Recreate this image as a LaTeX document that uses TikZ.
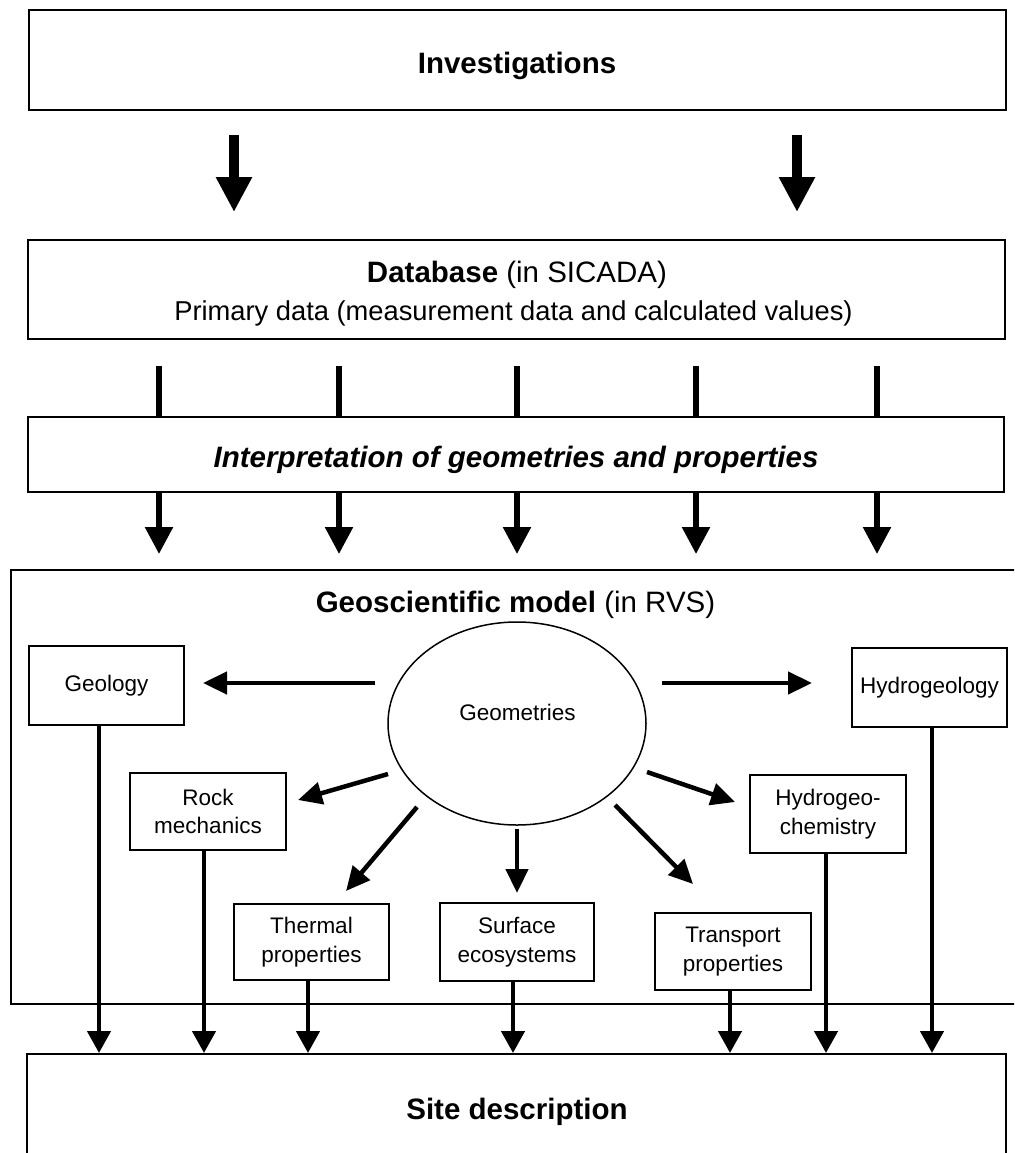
\documentclass[tikz,border=0pt]{standalone}
\usepackage{fontspec}
\setmainfont{Liberation Sans}
\usetikzlibrary{arrows.meta,shapes.geometric}
\newcommand\figbig{\fontsize{29.5}{35}\selectfont}
\newcommand\figmid{\fontsize{27.3}{32}\selectfont}
\begin{document}
\begin{tikzpicture}[x=1pt,y=-1pt,
  box/.style={draw, line width=2pt, rectangle, inner sep=0pt, anchor=north west},
  small/.style={box, align=center, font=\fontsize{22.5}{28.5}\selectfont},
  title/.style={inner sep=0pt, anchor=base},
  conn/.style={line width=5.5pt},
  bigarrow/.style={line width=10pt, -{Triangle[width=34pt,length=35pt]}},
  midarrow/.style={line width=5.5pt, -{Triangle[width=27pt,length=27pt]}},
  geoarrow/.style={line width=4.5pt, -{Triangle[width=22pt,length=24pt]}},
  botarrow/.style={line width=4.5pt, -{Triangle[width=23pt,length=22pt]}},
]
\useasboundingbox (0,0) rectangle (1014,1153);
\clip (0,0) rectangle (1014,1153);

% --- boxes ---
\node[box, minimum width=977pt, minimum height=100pt] (inv) at (28,9) {};
\node[title, font=\bfseries\figbig] (invt) at (517,74) {Investigations};

\node[box, minimum width=977pt, minimum height=99pt] (db) at (27,239) {};
\node[title, font=\figbig] (dbt1) at (517,282) {\textbf{Database} (in SICADA)};
\node[title, font=\figmid] (dbt2) at (513.5,320) {Primary data (measurement data and calculated values)};

\node[box, minimum width=976pt, minimum height=75pt] (interp) at (27,416) {};
\node[title, font=\bfseries\itshape\figbig] (interpt) at (516,467) {Interpretation of geometries and properties};

\node[box, minimum width=1030pt, minimum height=434pt] (geo) at (10,569) {};
\node[title, font=\figbig] (geot) at (515.5,612) {\textbf{Geoscientific model} (in RVS)};

\node[draw, ellipse, line width=1.5pt, inner sep=0pt, minimum width=258pt, minimum height=203pt] (geom) at (517,723.5) {};
\node[title, font=\fontsize{22.5}{28.5}\selectfont] (geomt) at (517.5,720.5) {Geometries};

\node[small, minimum width=155pt, minimum height=79pt] (geology) at (28,645) {Geology};
\node[small, minimum width=155pt, minimum height=79pt] (hydro) at (851,647) {Hydrogeology};
\node[small, minimum width=156pt, minimum height=77pt] (rock) at (129,772) {Rock\\mechanics};
\node[small, minimum width=156pt, minimum height=78pt] (hchem) at (749,774) {Hydrogeo-\\chemistry};
\node[small, minimum width=155pt, minimum height=76pt] (thermal) at (233,903) {Thermal\\properties};
\node[small, minimum width=154pt, minimum height=78pt] (surface) at (439,902) {Surface\\ecosystems};
\node[small, minimum width=156pt, minimum height=77pt] (transport) at (654,912) {Transport\\properties};

\node[box, minimum width=979pt, minimum height=200pt] (site) at (26,1053) {};
\node[title, font=\bfseries\figbig] (sitet) at (517,1119) {Site description};

% --- top arrows ---
\coordinate (ta1) at (234,135); \coordinate (tb1) at (234,212);
\coordinate (ta2) at (797,135); \coordinate (tb2) at (797,212);
\draw[bigarrow] (ta1) -- (tb1);
\draw[bigarrow] (ta2) -- (tb2);

% --- database -> interpretation ---
\coordinate (ytip) at (0,554);
\foreach \i/\x in {1/159,2/339,3/517,4/696,5/877}{
  \coordinate (c\i) at (\x,366);
  \draw[conn] (c\i) -- (c\i |- interp.north);
  \draw[midarrow] (c\i |- interp.south) -- (c\i |- ytip);
}

% --- geometries arrows ---
\coordinate (g1s) at (375,683); \coordinate (g1e) at (203,683);
\coordinate (g2s) at (662,683); \coordinate (g2e) at (812,683);
\coordinate (g3s) at (388,774); \coordinate (g3e) at (298,800);
\coordinate (g4s) at (647,772); \coordinate (g4e) at (735,802);
\coordinate (g5s) at (417,807); \coordinate (g5e) at (346,891);
\coordinate (g6s) at (517,829); \coordinate (g6e) at (517,893);
\coordinate (g7s) at (615,805); \coordinate (g7e) at (693,884);
\foreach \i in {1,...,7}{\draw[geoarrow] (g\i s) -- (g\i e);}

% --- to site description ---
\coordinate (b1) at (99,0);
\coordinate (b2) at (204,0);
\coordinate (b3) at (308,0);
\coordinate (b4) at (513,0);
\coordinate (b5) at (730,0);
\coordinate (b6) at (826,0);
\coordinate (b7) at (932,0);
\draw[botarrow] (b1 |- geology.south) -- (b1 |- site.north);
\draw[botarrow] (b2 |- rock.south) -- (b2 |- site.north);
\draw[botarrow] (b3 |- thermal.south) -- (b3 |- site.north);
\draw[botarrow] (b4 |- surface.south) -- (b4 |- site.north);
\draw[botarrow] (b5 |- transport.south) -- (b5 |- site.north);
\draw[botarrow] (b6 |- hchem.south) -- (b6 |- site.north);
\draw[botarrow] (b7 |- hydro.south) -- (b7 |- site.north);
\end{tikzpicture}
\end{document}
